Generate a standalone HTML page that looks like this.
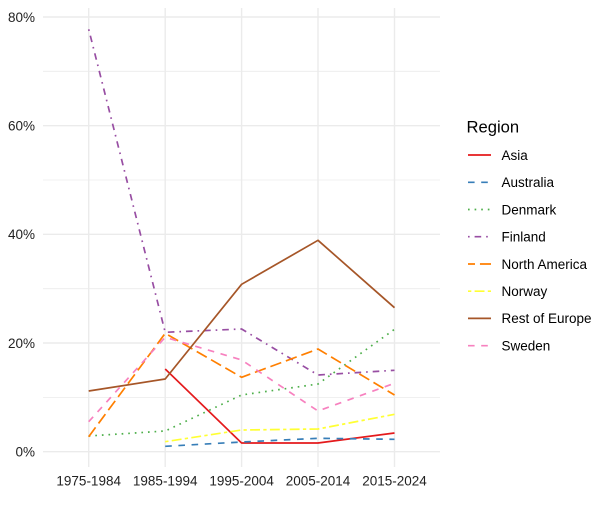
<!DOCTYPE html>
<html>
<head>
<meta charset="utf-8">
<style>
  html,body{margin:0;padding:0;background:#fff;}
  svg{display:block;}
  text{font-family:"Liberation Sans",Arial,sans-serif;}
</style>
</head>
<body>
<svg width="611" height="517" viewBox="0 0 611 517" xmlns="http://www.w3.org/2000/svg">
  <rect width="611" height="517" fill="#fff"/>
  <!-- minor gridlines -->
  <g stroke="#EBEBEB" stroke-width="0.8">
    <line x1="43" x2="440" y1="397.4" y2="397.4"/>
    <line x1="43" x2="440" y1="288.7" y2="288.7"/>
    <line x1="43" x2="440" y1="180" y2="180"/>
    <line x1="43" x2="440" y1="71.3" y2="71.3"/>
  </g>
  <!-- major gridlines -->
  <g stroke="#EBEBEB" stroke-width="1.4">
    <line x1="43" x2="440" y1="451.7" y2="451.7"/>
    <line x1="43" x2="440" y1="343" y2="343"/>
    <line x1="43" x2="440" y1="234.3" y2="234.3"/>
    <line x1="43" x2="440" y1="125.7" y2="125.7"/>
    <line x1="43" x2="440" y1="17" y2="17"/>
    <line x1="88.7" x2="88.7" y1="8" y2="467"/>
    <line x1="165.2" x2="165.2" y1="8" y2="467"/>
    <line x1="241.6" x2="241.6" y1="8" y2="467"/>
    <line x1="318" x2="318" y1="8" y2="467"/>
    <line x1="394.5" x2="394.5" y1="8" y2="467"/>
  </g>
  <!-- y labels -->
  <g font-size="13.5" fill="#222" text-anchor="end">
    <text x="35" y="456.6">0%</text>
    <text x="35" y="347.9">20%</text>
    <text x="35" y="239.2">40%</text>
    <text x="35" y="130.6">60%</text>
    <text x="35" y="21.9">80%</text>
  </g>
  <!-- x labels -->
  <g font-size="13.5" fill="#222" text-anchor="middle">
    <text x="88.7" y="485.7">1975-1984</text>
    <text x="165.2" y="485.7">1985-1994</text>
    <text x="241.6" y="485.7">1995-2004</text>
    <text x="318" y="485.7">2005-2014</text>
    <text x="394.5" y="485.7">2015-2024</text>
  </g>
  <!-- series -->
  <g fill="none" stroke-width="1.7" stroke-linejoin="round">
    <polyline stroke="#E41A1C" points="165.2,369 241.6,443 318,443 394.5,433"/>
    <polyline stroke="#377EB8" stroke-dasharray="6.6 6.6" points="165.2,446.3 241.6,442 318,438.3 394.5,439.3"/>
    <polyline stroke="#4DAF4A" stroke-dasharray="1.65 4.95" points="88.7,436 165.2,431 241.6,395 318,384 394.5,329.3"/>
    <polyline stroke="#984EA3" stroke-dasharray="1.65 4.95 6.6 4.95" points="88.7,29.3 165.2,332.3 241.6,329 318,375 394.5,370.3"/>
    <polyline stroke="#FF7F00" stroke-dasharray="11.55 4.95" points="88.7,436.7 165.2,333.3 241.6,377.3 318,349 394.5,395"/>
    <polyline stroke="#FFFF33" stroke-dasharray="3.3 3.3 9.9 3.3" points="165.2,441.7 241.6,430 318,429 394.5,414.3"/>
    <polyline stroke="#A65628" points="88.7,391 165.2,379 241.6,284.3 318,240.3 394.5,307.7"/>
    <polyline stroke="#F781BF" stroke-dasharray="6.6 6.6" points="88.7,421.7 165.2,337.3 241.6,360 318,411 394.5,383.3"/>
  </g>
  <!-- legend -->
  <text x="466.5" y="132.5" font-size="16.6" fill="#000">Region</text>
  <g fill="none" stroke-width="1.7">
    <line x1="468" x2="491" y1="155" y2="155" stroke="#E41A1C"/>
    <line x1="468" x2="491" y1="182.3" y2="182.3" stroke="#377EB8" stroke-dasharray="6.6 6.6"/>
    <line x1="468" x2="491" y1="209.5" y2="209.5" stroke="#4DAF4A" stroke-dasharray="1.65 4.95"/>
    <line x1="468" x2="491" y1="236.7" y2="236.7" stroke="#984EA3" stroke-dasharray="1.65 4.95 6.6 4.95"/>
    <line x1="468" x2="491" y1="264" y2="264" stroke="#FF7F00" stroke-dasharray="7 4.95 11.55 4.95"/>
    <line x1="468" x2="491" y1="291.2" y2="291.2" stroke="#FFFF33" stroke-dasharray="3.3 3.3 9.9 3.3"/>
    <line x1="468" x2="491" y1="318.4" y2="318.4" stroke="#A65628"/>
    <line x1="468" x2="491" y1="345.7" y2="345.7" stroke="#F781BF" stroke-dasharray="6.6 6.6"/>
  </g>
  <g font-size="13.5" fill="#000">
    <text x="501.5" y="159.8">Asia</text>
    <text x="501.5" y="187.1">Australia</text>
    <text x="501.5" y="214.3">Denmark</text>
    <text x="501.5" y="241.5">Finland</text>
    <text x="501.5" y="268.8">North America</text>
    <text x="501.5" y="296">Norway</text>
    <text x="501.5" y="323.2">Rest of Europe</text>
    <text x="501.5" y="350.5">Sweden</text>
  </g>
</svg>
</body>
</html>
